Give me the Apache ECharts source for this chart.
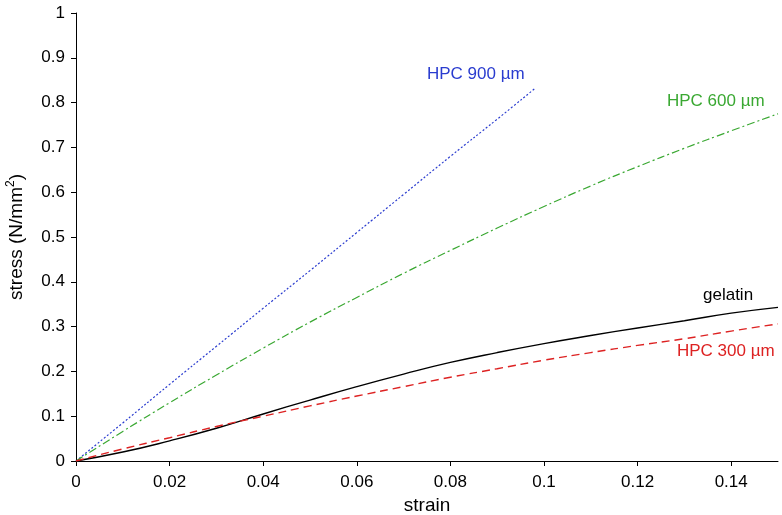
<!DOCTYPE html>
<html>
<head>
<meta charset="utf-8">
<script src="https://cdn.jsdelivr.net/npm/echarts@6/dist/echarts.min.js"></script>
<style>html,body{margin:0;padding:0;background:#fff}#c{width:782px;height:515px}</style>
</head>
<body>
<div id="c"></div>
<script>
const xTicks = [0, 0.02, 0.04, 0.06, 0.08, 0.1, 0.12, 0.14];
const yTicks = [0, 0.1, 0.2, 0.3, 0.4, 0.5, 0.6, 0.7, 0.8, 0.9, 1];

const hpc900X = [0, 0.01, 0.02, 0.03, 0.04, 0.05, 0.06, 0.07, 0.08, 0.09, 0.098];
const hpc900Y = [0, 0.085, 0.171, 0.256, 0.341, 0.425, 0.510, 0.595, 0.680, 0.763, 0.831];

const hpc600X = [0, 0.01, 0.02, 0.03, 0.04, 0.05, 0.06, 0.07, 0.08, 0.09, 0.1, 0.11, 0.12, 0.13, 0.14, 0.15];
const hpc600Y = [0, 0.066, 0.130, 0.192, 0.252, 0.310, 0.365, 0.419, 0.470, 0.520, 0.568, 0.614, 0.657, 0.698, 0.737, 0.775];

const gelatinX = [0, 0.01, 0.02, 0.03, 0.04, 0.05, 0.06, 0.07, 0.08, 0.09, 0.1, 0.11, 0.12, 0.13, 0.14, 0.15];
const gelatinY = [0, 0.020, 0.045, 0.073, 0.105, 0.136, 0.166, 0.194, 0.220, 0.242, 0.262, 0.280, 0.297, 0.313, 0.330, 0.343];

const hpc300X = [0, 0.01, 0.02, 0.03, 0.04, 0.05, 0.06, 0.07, 0.08, 0.09, 0.1, 0.11, 0.12, 0.13, 0.14, 0.15];
const hpc300Y = [0, 0.027, 0.052, 0.077, 0.100, 0.123, 0.145, 0.166, 0.187, 0.206, 0.225, 0.242, 0.258, 0.273, 0.290, 0.306];

const pairs = (xs, ys) => xs.map((x, i) => [x, ys[i]]);
const FONT = 'Liberation Sans, Arial, Helvetica, sans-serif';

const chart = echarts.init(document.getElementById('c'), null, {renderer: 'canvas'});
const fmt = v => (Math.round(v * 100) / 100).toString();

chart.setOption({
  animation: false,
  backgroundColor: '#fff',
  grid: {left: 76, right: 4, top: 13, bottom: 54, containLabel: false, outerBoundsMode: 'none'},
  xAxis: {
    type: 'value', min: 0, max: 0.15, interval: 0.02,
    name: 'strain', nameLocation: 'middle', nameGap: 32,
    nameTextStyle: {fontFamily: FONT, fontSize: 19, color: '#000'},
    axisLine: {show: true, onZero: false, lineStyle: {color: '#000', width: 1}},
    axisTick: {show: true, inside: false, length: 5, lineStyle: {color: '#000'}},
    axisLabel: {fontFamily: FONT, fontSize: 17, color: '#000', margin: 13,
      formatter: v => xTicks.includes(Math.round(v * 100) / 100) ? fmt(v) : '', showMaxLabel: false},
    splitLine: {show: false}
  },
  yAxis: {
    type: 'value', min: 0, max: 1, interval: 0.1,
    name: '{m|stress (N/mm}{s|2}{m|)}', nameLocation: 'middle', nameGap: 47,
    nameTextStyle: {fontFamily: FONT, fontSize: 19, color: '#000',
      rich: {
        m: {fontFamily: FONT, fontSize: 19, color: '#000', lineHeight: 24},
        s: {fontFamily: FONT, fontSize: 12, color: '#000', lineHeight: 24, verticalAlign: 'top', padding: [0, 0, 8, 0]}
      }},
    axisLine: {show: true, onZero: false, lineStyle: {color: '#000', width: 1}},
    axisTick: {show: true, inside: false, length: 5, lineStyle: {color: '#000'}},
    axisLabel: {fontFamily: FONT, fontSize: 17, color: '#000', margin: 11,
      formatter: v => yTicks.includes(Math.round(v * 10) / 10) ? fmt(v) : ''},
    splitLine: {show: false}
  },
  series: [
    {name: 'HPC 900 µm', type: 'line', data: pairs(hpc900X, hpc900Y), showSymbol: false, smooth: true,
      lineStyle: {color: '#2a3ccf', width: 1.2, type: [2, 2]}},
    {name: 'HPC 600 µm', type: 'line', data: pairs(hpc600X, hpc600Y), showSymbol: false, smooth: true,
      lineStyle: {color: '#3aa832', width: 1.2, type: [8, 3, 2, 3]}},
    {name: 'gelatin', type: 'line', data: pairs(gelatinX, gelatinY), showSymbol: false, smooth: true,
      lineStyle: {color: '#000', width: 1.4, type: 'solid'}},
    {name: 'HPC 300 µm', type: 'line', data: pairs(hpc300X, hpc300Y), showSymbol: false, smooth: true,
      lineStyle: {color: '#dd2222', width: 1.4, type: [8, 5]}}
  ],
  graphic: [
    {type: 'text', left: 427, top: 66, style: {text: 'HPC 900 µm', fill: '#2a3ccf', font: '17px ' + FONT}},
    {type: 'text', left: 667, top: 93, style: {text: 'HPC 600 µm', fill: '#3aa832', font: '17px ' + FONT}},
    {type: 'text', left: 703, top: 287, style: {text: 'gelatin', fill: '#000', font: '17px ' + FONT}},
    {type: 'text', left: 677, top: 343, style: {text: 'HPC 300 µm', fill: '#dd2222', font: '17px ' + FONT}}
  ]
});
</script>
</body>
</html>
